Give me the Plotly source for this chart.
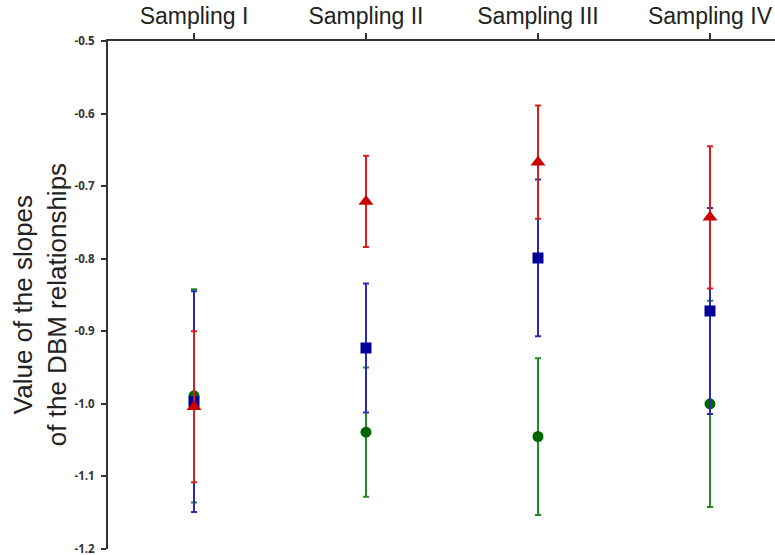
import plotly.graph_objects as go

categories = ["Sampling I", "Sampling II", "Sampling III", "Sampling IV"]
x_pos = [0, 1, 2, 3]

green_vals = [-0.989, -1.039, -1.045, -1.000]
green_err = [0.147, 0.089, 0.108, 0.142]

blue_vals = [-0.997, -0.923, -0.799, -0.872]
blue_err = [0.152, 0.089, 0.108, 0.142]

red_vals = [-1.004, -0.721, -0.667, -0.743]
red_err = [0.104, 0.063, 0.078, 0.098]

y_ticks = [-1.2, -1.1, -1.0, -0.9, -0.8, -0.7, -0.6, -0.5]
y_ticktext = ["-1.2", "-1.1", "-1.0", "-0.9", "-0.8", "-0.7", "-0.6", "-0.5"]

series = [
    ("green", green_vals, green_err, "circle", 11, "#006600", "#228b22"),
    ("blue", blue_vals, blue_err, "square", 11, "#000099", "#2a2ab8"),
    ("red", red_vals, red_err, "triangle-up", 13, "#cc0000", "#dd1c1c"),
]

fig = go.Figure()
for name, vals, errs, sym, size, mcol, ecol in series:
    fig.add_trace(go.Scatter(
        x=x_pos, y=vals, mode="markers", name=name,
        marker=dict(symbol=sym, size=size, color=mcol, line=dict(width=0)),
        error_y=dict(type="data", array=errs, visible=True,
                     color=ecol, thickness=2, width=3),
        showlegend=False,
    ))

fig.update_layout(
    width=775, height=555,
    margin=dict(l=108, r=0, t=41, b=6),
    paper_bgcolor="white", plot_bgcolor="white",
    xaxis=dict(
        side="top", range=[-0.5, 3.378],
        tickmode="array", tickvals=x_pos, ticktext=categories,
        ticks="outside", ticklen=6, tickwidth=2, tickcolor="#333",
        showline=True, linecolor="#333", linewidth=2,
        showgrid=False, zeroline=False,
        tickfont=dict(family="Liberation Sans, Arial", size=23, color="#222"),
    ),
    yaxis=dict(
        range=[-1.2, -0.5],
        tickmode="array", tickvals=y_ticks, ticktext=y_ticktext,
        ticks="outside", ticklen=5, tickwidth=2, tickcolor="#333",
        showline=True, linecolor="#333", linewidth=2,
        showgrid=False, zeroline=False, ticklabelstandoff=4,
        ticklabeloverflow="allow",
        tickfont=dict(family="Open Sans", size=11.5, color="#333", weight=700),
    ),
    annotations=[dict(
        text="Value of the slopes<br>of the DBM relationships",
        xref="paper", yref="paper",
        x=-68 / 667, y=0.48, xanchor="center", yanchor="middle",
        textangle=-90, showarrow=False,
        font=dict(family="Liberation Sans, Arial", size=26, color="#222"),
    )],
)

fig.write_html("out.html")
